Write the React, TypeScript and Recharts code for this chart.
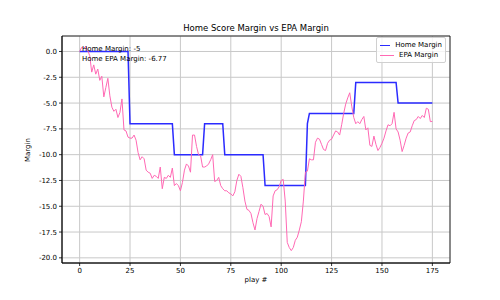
import React from "react";
import {
  LineChart,
  Line,
  XAxis,
  YAxis,
  CartesianGrid,
  ReferenceArea,
} from "recharts";

// score margin after each play (home perspective)
const homeMargin = [
  0, 0, 0, 0, 0, 0, 0, 0, 0, 0,
  0, 0, 0, 0, 0, 0, 0, 0, 0, 0,
  0, 0, 0, 0, 0, -7, -7, -7, -7, -7,
  -7, -7, -7, -7, -7, -7, -7, -7, -7, -7,
  -7, -7, -7, -7, -7, -7, -7, -10, -10, -10,
  -10, -10, -10, -10, -10, -10, -10, -10, -10, -10,
  -10, -10, -7, -7, -7, -7, -7, -7, -7, -7,
  -7, -7, -10, -10, -10, -10, -10, -10, -10, -10,
  -10, -10, -10, -10, -10, -10, -10, -10, -10, -10,
  -10, -10, -13, -13, -13, -13, -13, -13, -13, -13,
  -13, -13, -13, -13, -13, -13, -13, -13, -13, -13,
  -13, -13, -13, -7, -6, -6, -6, -6, -6, -6,
  -6, -6, -6, -6, -6, -6, -6, -6, -6, -6,
  -6, -6, -6, -6, -6, -6, -6, -3, -3, -3,
  -3, -3, -3, -3, -3, -3, -3, -3, -3, -3,
  -3, -3, -3, -3, -3, -3, -3, -3, -5, -5,
  -5, -5, -5, -5, -5, -5, -5, -5, -5, -5,
  -5, -5, -5, -5, -5, -5,
];

// EPA margin after each play
const epaMargin = [
  0, 0.4, 0.3, 0.5, 0.1, -0.4, -2.0, -1.3, -2.2, -1.7,
  -2.8, -2.4, -4.4, -3.5, -2.6, -4.3, -5.4, -5.8, -5.6, -6.4,
  -5.9, -4.6, -7.6, -7.7, -8.3, -8.4, -8.4, -8.1, -8.6, -9.8,
  -10.5, -10.2, -10.4, -11.5, -11.7, -11.8, -12.3, -12.0, -12.1, -12.3,
  -11.2, -13.3, -12.2, -12.3, -12.0, -12.2, -11.3, -13.0, -12.8, -13.0,
  -13.5, -12.7, -11.5, -10.9, -11.1, -11.7, -8.1, -8.1, -9.2, -10.0,
  -10.1, -11.2, -11.2, -11.1, -10.9, -10.5, -10.0, -12.6, -12.5, -12.2,
  -13.0, -13.3, -13.5, -13.5, -13.7, -13.8, -14.0, -13.6, -12.5, -11.9,
  -12.1, -13.2, -14.5, -15.3, -15.4, -15.7, -16.6, -17.3, -16.2, -15.5,
  -14.8, -15.0, -15.8, -15.7, -16.0, -17.0, -14.0, -13.5, -13.4, -13.1,
  -12.5, -12.4, -14.5, -18.5, -19.0, -19.3, -19.0, -18.3, -18.0, -17.3,
  -16.5, -14.5, -11.7, -11.6, -10.4, -10.5, -10.5, -8.8, -8.4, -8.5,
  -9.0, -9.5, -9.6, -8.9, -8.6, -8.5, -8.1, -7.7, -7.8, -8.1,
  -7.1, -6.0, -5.1, -4.5, -4.0, -5.3, -6.4, -7.0, -6.8, -7.0,
  -6.6, -6.3, -7.6, -7.4, -9.1, -9.2, -8.2, -9.0, -9.6, -9.3,
  -8.9, -8.4, -7.7, -7.1, -7.2, -7.0, -5.9, -7.5, -7.8, -8.6,
  -9.7, -9.1, -8.4, -7.9, -7.8, -7.2, -6.7, -6.6, -6.3, -6.5,
  -6.2, -6.4, -5.5, -5.6, -6.8, -6.77,
];

const xTicks = [0, 25, 50, 75, 100, 125, 150, 175];
const yTicks = [0, -2.5, -5, -7.5, -10, -12.5, -15, -17.5, -20];
const xDomain = [-8.75, 183.75];
const yDomain = [-20.5, 1.5];

const data = homeMargin.map((h, i) => ({ play: i, home: h, epa: epaMargin[i] }));

const FONT = "'DejaVu Sans', sans-serif";
const BLUE = "#2b2bff";
const PINK = "#ff69b4";

const legendItems = [
  { label: "Home Margin", color: BLUE, w: 1.5 },
  { label: "EPA Margin", color: PINK, w: 1 },
];

export default function App() {
  const axisStyle = {
    tick: { fill: "#000", fontSize: 7, fontFamily: FONT },
    axisLine: { stroke: "#000", strokeWidth: 0.8 },
    tickLine: { stroke: "#000", strokeWidth: 0.8 },
    tickSize: 3,
  };

  return (
    <div style={{ position: "fixed", left: 0, top: 0, width: 500, height: 300, background: "#fff" }}>
      <LineChart
        width={500}
        height={300}
        data={data}
        margin={{ top: 36, right: 50, bottom: 7, left: 0 }}
      >
        <CartesianGrid stroke="#c8c8c8" strokeWidth={1} />
        <XAxis
          dataKey="play"
          type="number"
          domain={xDomain}
          ticks={xTicks}
          height={30}
          {...axisStyle}
        />
        <YAxis
          type="number"
          domain={yDomain}
          ticks={yTicks}
          width={62}
          tickFormatter={(v: number) => v.toFixed(1)}
          {...axisStyle}
        />
        <ReferenceArea
          x1={xDomain[0]}
          x2={xDomain[1]}
          y1={yDomain[0]}
          y2={yDomain[1]}
          fill="none"
          stroke="#000"
          strokeWidth={0.8}
          ifOverflow="visible"
        />
        <Line
          type="linear"
          dataKey="home"
          name="Home Margin"
          stroke={BLUE}
          strokeWidth={1.5}
          dot={false}
          isAnimationActive={false}
        />
        <Line
          type="linear"
          dataKey="epa"
          name="EPA Margin"
          stroke={PINK}
          strokeWidth={1}
          dot={false}
          isAnimationActive={false}
        />
      </LineChart>
      <div
        style={{
          position: "absolute",
          top: 37,
          left: 376,
          width: 70,
          boxSizing: "border-box",
          background: "rgba(255,255,255,0.8)",
          border: "1px solid #d0d0d0",
          borderRadius: 2,
          padding: "2px 3px",
          fontFamily: FONT,
          fontSize: 7,
          color: "#000",
          lineHeight: "10px",
          whiteSpace: "nowrap",
        }}
      >
        {legendItems.map((it) => (
          <div key={it.label} style={{ display: "flex", alignItems: "center" }}>
            <span
              style={{
                display: "inline-block",
                width: 14,
                height: 0,
                borderTop: `${it.w}px solid ${it.color}`,
                marginRight: 5,
              }}
            />
            {it.label}
          </div>
        ))}
      </div>
      <div
        style={{
          position: "absolute",
          top: 23,
          left: 62,
          width: 388,
          textAlign: "center",
          fontFamily: FONT,
          fontSize: 8.5,
          color: "#000",
        }}
      >
        Home Score Margin vs EPA Margin
      </div>
      <div
        style={{
          position: "absolute",
          top: 44,
          left: 82,
          fontFamily: FONT,
          fontSize: 7,
          lineHeight: "10px",
          color: "#000",
        }}
      >
        <div>Home Margin: -5</div>
        <div>Home EPA Margin: -6.77</div>
      </div>
      <div
        style={{
          position: "absolute",
          top: 276,
          left: 62,
          width: 388,
          textAlign: "center",
          fontFamily: FONT,
          fontSize: 7,
          color: "#000",
        }}
      >
        play #
      </div>
      <div
        style={{
          position: "absolute",
          top: 150,
          left: 28,
          transform: "translate(-50%, -50%) rotate(-90deg)",
          fontFamily: FONT,
          fontSize: 7,
          color: "#000",
          whiteSpace: "nowrap",
        }}
      >
        Margin
      </div>
    </div>
  );
}
